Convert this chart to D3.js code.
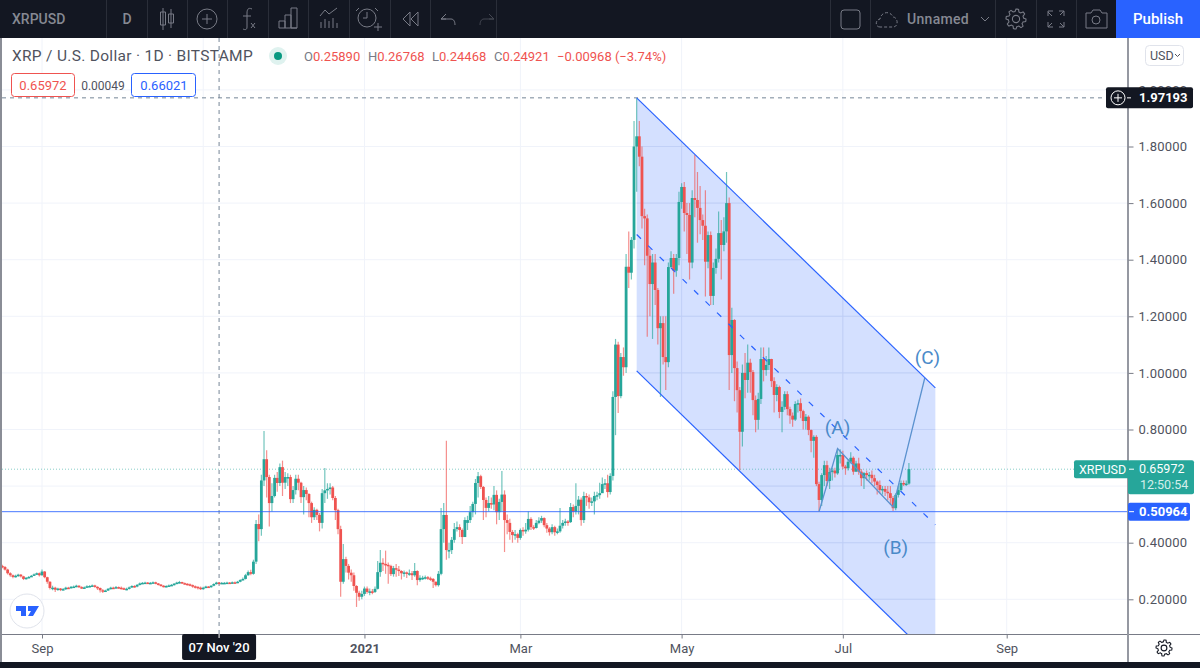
<!DOCTYPE html>
<html>
<head>
<meta charset="utf-8">
<style>
  html, body { margin: 0; padding: 0; background: #fff; overflow: hidden; }
  text { font-family: Roboto, "Open Sans", sans-serif; }
</style>
</head>
<body>
<div class="map"></div>
<script src="https://cdn.jsdelivr.net/npm/d3@7"></script>
<script>
// daily candles from 17 Aug 2020, one line per month
const firstBar = "2020-08-17";

const opens = [
  .318,.314,.305,.292,.285,.279,.283,.287,.281,.272,.276,.279,.283,.288,.292,
  .285,.298,.278,.262,.240,.241,.234,.238,.234,.236,.241,.240,.244,.245,.248,.243,.241,.242,.246,.247,.249,.244,.240,.232,.228,.231,.237,.241,.240,.243,
  .241,.239,.236,.237,.242,.247,.245,.251,.256,.258,.259,.257,.258,.260,.256,.252,.248,.246,.247,.249,.251,.255,.259,.261,.257,.255,.253,.250,.246,.244,.241,
  .240,.241,.245,.243,.248,.254,.259,.257,.258,.258,.259,.258,.260,.259,.262,.268,.272,.285,.296,.290,.333,.466,.448,.620,.695,.632,.540,.565,.629,.611,
  .667,.612,.632,.632,.554,.586,.626,.612,.561,.586,.572,.540,.490,.516,.498,.470,.575,.585,.590,.595,.558,.515,.448,.262,.342,.318,.294,.285,.247,.223,.209,
  .219,.238,.226,.228,.226,.237,.296,.329,.325,.322,.318,.289,.310,.305,.300,.292,.295,.290,.292,.285,.300,.268,.276,.276,.278,.274,.272,.262,.250,.290,.448,
  .498,.374,.374,.410,.448,.455,.445,.420,.470,.480,.508,.537,.611,.635,.597,.551,.523,.540,.535,.569,.508,.544,.570,.480,.470,.438,.427,.430,
  .417,.445,.440,.446,.484,.455,.452,.470,.478,.487,.462,.450,.437,.455,.437,.440,.460,.470,.475,.473,.526,.510,.530,.552,.480,.565,.560,.543,.546,.565,.568,
  .575,.607,.610,.579,.636,.915,1.10,.918,1.056,1.02,1.375,1.354,1.47,1.80,1.836,1.764,1.554,1.546,1.414,1.314,1.39,1.293,1.158,1.176,1.056,1.038,1.374,1.406,1.361,1.406,
  1.604,1.657,1.565,1.558,1.39,1.618,1.611,1.583,1.54,1.52,1.393,1.487,1.272,1.371,1.403,1.494,1.452,1.50,1.60,1.063,1.187,1.017,.939,.792,1.0,.975,1.036,1.003,.904,.834,.908,
  1.049,1.01,1.028,1.049,.971,.922,.95,.862,.88,.925,.872,.849,.835,.89,.893,.865,.83,.845,.798,.76,.774,.607,.551,.639,.674,.618,.65,.655,.645,.71,
  .71,.669,.663,.686,.70,.651,.68,.651,.628,.646,.639,.64,.628,.616,.604,.586,.59,.58,.575,.558,.522,.569,.586,.611,.608,.609
];
const highs = [
  .322,.318,.308,.296,.288,.287,.290,.289,.283,.279,.282,.286,.291,.295,.295,
  .305,.300,.280,.264,.248,.244,.241,.240,.240,.244,.244,.247,.249,.251,.250,.246,.245,.250,.250,.252,.251,.246,.242,.236,.234,.240,.244,.244,.247,.245,
  .245,.242,.241,.245,.250,.250,.254,.259,.261,.262,.261,.261,.263,.262,.258,.254,.250,.250,.252,.254,.258,.262,.265,.262,.259,.257,.256,.252,.249,.246,.245,
  .244,.248,.247,.250,.257,.262,.261,.261,.261,.262,.261,.263,.263,.265,.271,.277,.290,.302,.304,.340,.480,.500,.640,.795,.727,.640,.610,.640,.650,.680,
  .690,.650,.645,.640,.600,.640,.640,.615,.600,.595,.575,.545,.525,.520,.505,.590,.664,.610,.610,.600,.565,.520,.460,.395,.350,.325,.305,.295,.250,.230,.230,
  .245,.245,.238,.236,.245,.335,.374,.345,.372,.330,.322,.318,.325,.318,.303,.302,.298,.305,.300,.328,.303,.285,.283,.284,.282,.280,.275,.263,.300,.523,.540,
  .760,.400,.420,.470,.475,.465,.450,.490,.495,.530,.545,.625,.650,.640,.600,.560,.565,.560,.600,.585,.555,.653,.585,.500,.485,.445,.445,.435,
  .450,.455,.470,.510,.490,.462,.480,.490,.495,.490,.470,.455,.465,.460,.450,.523,.480,.485,.480,.540,.535,.610,.565,.560,.580,.575,.570,.560,.580,.580,.612,
  .630,.625,.640,.645,.935,1.12,1.11,1.07,1.09,1.42,1.50,1.48,1.89,1.97,1.89,1.80,1.58,1.56,1.44,1.42,1.42,1.30,1.20,1.20,1.20,1.39,1.43,1.42,1.42,1.64,
  1.67,1.675,1.60,1.60,1.645,1.77,1.71,1.66,1.56,1.645,1.50,1.50,1.39,1.44,1.57,1.54,1.55,1.71,1.62,1.23,1.19,1.04,.95,1.03,1.07,1.10,1.05,1.01,.92,.93,1.09,
  1.09,1.06,1.09,1.05,.985,.96,.955,.90,.935,.935,.88,.86,.90,.905,.91,.87,.855,.85,.80,.78,.78,.615,.645,.69,.69,.665,.665,.665,.733,.73,
  .725,.675,.695,.72,.705,.69,.70,.66,.65,.655,.65,.655,.64,.62,.62,.60,.60,.60,.60,.565,.575,.60,.62,.62,.62,.682
];
const lows = [
  .310,.302,.288,.280,.274,.277,.280,.277,.268,.270,.274,.279,.282,.286,.281,
  .283,.274,.255,.235,.232,.226,.230,.229,.232,.233,.237,.238,.241,.243,.240,.237,.238,.240,.243,.245,.241,.233,.224,.222,.226,.229,.235,.237,.238,.237,
  .235,.233,.232,.235,.240,.241,.243,.249,.254,.255,.254,.254,.256,.253,.249,.245,.242,.243,.245,.247,.249,.253,.256,.254,.252,.249,.246,.241,.238,.235,.233,
  .234,.239,.240,.241,.246,.252,.254,.254,.254,.255,.254,.255,.255,.257,.260,.266,.270,.283,.285,.287,.325,.405,.425,.600,.560,.457,.510,.560,.580,.600,
  .565,.590,.600,.540,.540,.570,.585,.540,.500,.550,.490,.470,.480,.480,.440,.450,.540,.555,.570,.550,.480,.430,.209,.255,.295,.270,.262,.230,.173,.195,.200,
  .212,.220,.214,.218,.222,.235,.280,.300,.290,.255,.282,.280,.280,.282,.270,.280,.275,.283,.268,.280,.250,.262,.268,.270,.268,.265,.240,.245,.245,.285,.400,
  .340,.345,.360,.400,.440,.420,.395,.420,.445,.470,.490,.500,.560,.590,.480,.490,.510,.520,.515,.465,.480,.510,.367,.430,.410,.400,.410,.400,
  .410,.425,.432,.440,.445,.445,.450,.465,.470,.455,.435,.425,.430,.425,.430,.435,.450,.460,.460,.470,.490,.500,.500,.460,.470,.530,.520,.530,.500,.550,.555,
  .590,.590,.560,.570,.620,.780,.858,.910,.990,1.00,1.30,1.33,1.44,1.64,1.73,1.51,1.38,1.128,1.20,1.12,1.24,1.10,.915,1.03,.94,1.02,1.37,1.28,1.34,1.38,
  1.58,1.50,1.42,1.33,1.37,1.55,1.46,1.49,1.47,1.27,1.37,1.24,1.24,1.35,1.39,1.33,1.43,1.46,.94,1.0,.90,.86,.657,.74,.91,.93,.93,.85,.79,.80,.89,
  .97,.99,1.01,.95,.86,.90,.84,.79,.87,.85,.82,.81,.83,.86,.84,.80,.80,.78,.72,.70,.60,.51,.53,.60,.60,.59,.62,.63,.64,.68,
  .66,.64,.655,.68,.64,.65,.64,.60,.59,.62,.62,.61,.60,.57,.575,.57,.565,.55,.535,.512,.515,.56,.58,.60,.60,.605
];
const closes = [
  .314,.305,.292,.285,.279,.283,.287,.281,.272,.276,.279,.283,.288,.292,.285,
  .298,.278,.262,.240,.241,.234,.238,.234,.236,.241,.240,.244,.245,.248,.243,.241,.242,.246,.247,.249,.244,.240,.232,.228,.231,.237,.241,.240,.243,.241,
  .239,.236,.237,.242,.247,.245,.251,.256,.258,.259,.257,.258,.260,.256,.252,.248,.246,.247,.249,.251,.255,.259,.261,.257,.255,.253,.250,.246,.244,.241,.240,
  .241,.245,.243,.248,.254,.259,.257,.258,.258,.259,.258,.260,.259,.262,.268,.272,.285,.296,.290,.333,.466,.448,.620,.695,.632,.540,.565,.629,.611,.667,
  .612,.632,.632,.554,.586,.626,.612,.561,.586,.572,.540,.490,.516,.498,.470,.575,.585,.590,.595,.558,.515,.448,.262,.342,.318,.294,.285,.247,.223,.209,.219,
  .238,.226,.228,.226,.237,.296,.329,.325,.322,.318,.289,.310,.305,.300,.292,.295,.290,.292,.285,.300,.268,.276,.276,.278,.274,.272,.262,.250,.290,.448,.498,
  .374,.374,.410,.448,.455,.445,.420,.480,.480,.508,.537,.611,.635,.597,.551,.523,.540,.535,.569,.508,.544,.570,.480,.470,.438,.427,.430,.417,
  .445,.440,.446,.484,.455,.452,.470,.478,.487,.462,.450,.437,.455,.437,.440,.460,.470,.475,.473,.526,.510,.530,.552,.480,.565,.560,.543,.546,.565,.568,.575,
  .607,.610,.579,.636,.915,1.10,.918,1.056,1.02,1.375,1.354,1.47,1.80,1.836,1.764,1.554,1.546,1.414,1.314,1.39,1.293,1.158,1.176,1.056,1.038,1.374,1.406,1.361,1.406,1.604,
  1.657,1.565,1.558,1.39,1.618,1.611,1.583,1.54,1.52,1.393,1.487,1.272,1.371,1.403,1.494,1.452,1.50,1.60,1.063,1.187,1.017,.939,.792,1.0,.975,1.036,1.003,.904,.834,.908,1.049,
  1.01,1.028,1.049,.971,.922,.95,.862,.88,.925,.872,.849,.835,.89,.893,.865,.83,.845,.798,.76,.774,.607,.551,.639,.674,.618,.65,.655,.645,.71,.71,
  .669,.663,.686,.70,.651,.68,.651,.628,.646,.639,.64,.628,.616,.604,.586,.59,.58,.575,.558,.522,.569,.586,.611,.608,.609,.660
];

const priceTicks = [0.2, 0.4, 0.6, 0.8, 1.0, 1.2, 1.4, 1.6, 1.8, 2.0];
const timeTicks = ["2020-09-01", "2020-11-01", "2021-01-01", "2021-03-01", "2021-05-01", "2021-07-01", "2021-09-01"];
const timeLabels = ["Sep", "", "2021", "Mar", "May", "Jul", "Sep"];

// parallel channel drawing: anchors at the two ends
const channelDates = ["2021-04-14", "2021-08-05"];
const channelUpper = [1.97193, 0.947];
const channelMiddle = [1.489, 0.463];
const channelLower = [1.007, -0.02];

// wave sketch (A)(B)(C)
const waveDates = ["2021-06-22", "2021-06-29", "2021-07-20", "2021-08-01"];
const wavePrices = [0.51, 0.733, 0.526, 0.982];
const waveLabels = ["(A)", "(B)", "(C)"];
const waveLabelDates = ["2021-06-29", "2021-07-21", "2021-08-02"];
const waveLabelPrices = [0.785, 0.36, 1.03];

const lastPrice = 0.65972;
const linePrice = 0.50964;
const crossPrice = 1.97193;
const crossDate = "2020-11-07";

const width = 1200;
const height = 668;
const plotRight = 1128;
const plotTop = 38;
const plotBottom = 634;

const green = "#26a69a";
const red = "#ef5350";
const blue = "#2962ff";
const dark = "#131722";
const iconCol = "#787b86";

const parseDate = d3.utcParse("%Y-%m-%d");

const x = d3.scaleUtc()
    .domain([parseDate("2020-09-01"), parseDate("2021-09-01")])
    .range([42, 1006.7]);

const y = d3.scaleLinear()
    .domain([0.2, 1.8])
    .range([599.3, 146.5]);

const candles = closes.map(function(c, i) {
  return { date: d3.utcDay.offset(parseDate(firstBar), i), open: opens[i], high: highs[i], low: lows[i], close: c };
});

const svg = d3.select(".map")
    .append("svg")
    .attr("width", width)
    .attr("height", height)
    .style("display", "block");

svg.append("clipPath").attr("id", "plot")
  .append("rect")
    .attr("x", 2).attr("y", plotTop)
    .attr("width", plotRight - 2).attr("height", plotBottom - plotTop);

// grid
const grid = svg.append("g");
grid.selectAll(".gy").data(priceTicks).enter().append("line")
    .attr("x1", 2).attr("x2", plotRight)
    .attr("y1", d => y(d)).attr("y2", d => y(d))
    .attr("stroke", "#f0f3fa");
grid.selectAll(".gx").data(timeTicks).enter().append("line")
    .attr("x1", d => x(parseDate(d))).attr("x2", d => x(parseDate(d)))
    .attr("y1", plotTop).attr("y2", plotBottom)
    .attr("stroke", "#f0f3fa");

// channel fill
const chart = svg.append("g").attr("clip-path", "url(#plot)");
const cx0 = x(parseDate(channelDates[0]));
const cx1 = x(parseDate(channelDates[1]));
const channelPath = "M" + [cx0, y(channelUpper[0])] + "L" + [cx1, y(channelUpper[1])] +
                    "L" + [cx1, y(channelLower[1])] + "L" + [cx0, y(channelLower[0])] + "Z";
chart.append("path")
    .attr("d", channelPath)
    .attr("fill", blue)
    .attr("fill-opacity", 0.2);

// grid stays visible through the fill
svg.append("clipPath").attr("id", "channel").append("path").attr("d", channelPath);
const gridIn = chart.append("g").attr("clip-path", "url(#channel)")
    .attr("stroke", "#bccbf5").attr("stroke-opacity", 0.6);
gridIn.selectAll(".gy2").data(priceTicks).enter().append("line")
    .attr("x1", cx0).attr("x2", cx1)
    .attr("y1", d => y(d)).attr("y2", d => y(d));
gridIn.selectAll(".gx2").data(timeTicks).enter().append("line")
    .attr("x1", d => x(parseDate(d))).attr("x2", d => x(parseDate(d)))
    .attr("y1", plotTop).attr("y2", plotBottom);

// price lines under the candles
chart.append("line")
    .attr("x1", 2).attr("x2", plotRight)
    .attr("y1", y(lastPrice)).attr("y2", y(lastPrice))
    .attr("stroke", green).attr("stroke-opacity", 0.55)
    .attr("stroke-dasharray", "1 2");

// crosshair
const crossX = x(parseDate(crossDate));
chart.append("line")
    .attr("x1", crossX).attr("x2", crossX)
    .attr("y1", plotTop).attr("y2", plotBottom)
    .attr("stroke", "#758696").attr("stroke-dasharray", "4 4");
chart.append("line")
    .attr("x1", 2).attr("x2", plotRight)
    .attr("y1", y(crossPrice)).attr("y2", y(crossPrice))
    .attr("stroke", "#758696").attr("stroke-dasharray", "4 4");

// candles
const bars = chart.append("g").selectAll("g").data(candles).enter().append("g");
bars.append("line")
    .attr("x1", d => x(d.date)).attr("x2", d => x(d.date))
    .attr("y1", d => y(d.high)).attr("y2", d => y(d.low))
    .attr("stroke", d => d.close >= d.open ? green : red)
    .attr("stroke-width", 1.2)
    .attr("stroke-opacity", 0.65);
bars.append("rect")
    .attr("x", d => x(d.date) - 1.4)
    .attr("width", 2.8)
    .attr("y", d => y(Math.max(d.open, d.close)))
    .attr("height", d => Math.max(1.5, Math.abs(y(d.open) - y(d.close))))
    .attr("fill", d => d.close >= d.open ? green : red);

// channel lines on top
[channelUpper, channelLower, channelMiddle].forEach(function(c, i) {
  const ln = chart.append("line")
      .attr("x1", cx0).attr("y1", y(c[0]))
      .attr("x2", cx1).attr("y2", y(c[1]))
      .attr("stroke", blue).attr("stroke-width", 1.2);
  if (i == 2) ln.attr("stroke-dasharray", "6 10");
});

chart.append("line")
    .attr("x1", 2).attr("x2", plotRight)
    .attr("y1", y(linePrice)).attr("y2", y(linePrice))
    .attr("stroke", blue).attr("stroke-opacity", 0.85);

// wave path and its labels
chart.append("path")
    .datum(waveDates.map((d, i) => [x(parseDate(d)), y(wavePrices[i])]))
    .attr("d", d3.line())
    .attr("fill", "none")
    .attr("stroke", "#5b92cf")
    .attr("stroke-width", 1.3);

svg.selectAll(".wave").data(waveLabels).enter().append("text")
    .attr("x", (d, i) => x(parseDate(waveLabelDates[i])))
    .attr("y", (d, i) => y(waveLabelPrices[i]))
    .attr("text-anchor", "middle")
    .attr("font-size", 19)
    .attr("fill", "#4a8ac9")
    .text(d => d);

// frame
svg.append("rect").attr("x", 0).attr("y", plotTop).attr("width", 2).attr("height", height - plotTop).attr("fill", "#8a8d96");
svg.append("line").attr("x1", 2).attr("x2", width).attr("y1", plotBottom + 0.5).attr("y2", plotBottom + 0.5).attr("stroke", "#787b86");
svg.append("rect").attr("x", plotRight - 1).attr("y", plotTop).attr("width", 2).attr("height", height - plotTop).attr("fill", "#9598a1");

// axes
const yAxis = d3.axisRight(y)
    .tickValues(priceTicks)
    .tickSize(5)
    .tickPadding(5)
    .tickFormat(d3.format(".5f"));
const yG = svg.append("g").attr("transform", "translate(" + (plotRight + 0.5) + ",0)").call(yAxis);
yG.select(".domain").remove();
yG.selectAll("line").attr("stroke", "#787b86");
yG.selectAll("text").attr("fill", "#50535e").attr("font-size", 13).style("font-family", "Roboto").attr("letter-spacing", 0.2);

const xAxis = d3.axisBottom(x)
    .tickValues(timeTicks.map(parseDate))
    .tickSize(4)
    .tickPadding(5)
    .tickFormat((d, i) => timeLabels[i]);
const xG = svg.append("g").attr("transform", "translate(0," + (plotBottom + 0.5) + ")").call(xAxis);
xG.select(".domain").remove();
xG.selectAll("line").attr("stroke", "#787b86");
xG.selectAll("text").attr("fill", "#50535e").attr("font-size", 13).style("font-family", "Roboto");
xG.selectAll("text").filter((d, i) => timeLabels[i] == "2021").attr("font-weight", 700);

// crosshair date tag
svg.append("rect").attr("x", crossX - 37).attr("y", plotBottom).attr("width", 74).attr("height", 26).attr("rx", 2).attr("fill", dark);
svg.append("line").attr("x1", crossX).attr("x2", crossX).attr("y1", plotBottom).attr("y2", plotBottom + 4).attr("stroke", "#fff");
svg.append("text").attr("x", crossX).attr("y", plotBottom + 18).attr("text-anchor", "middle")
    .attr("fill", "#fff").attr("font-size", 13).attr("font-weight", 500).text("07 Nov '20");

// right side price tags
function tag(xp, yp, w, h, col) {
  svg.append("rect").attr("x", xp).attr("y", yp).attr("width", w).attr("height", h).attr("rx", 2).attr("fill", col);
}
function label(xp, yp, txt, col, size, weight, anchor) {
  return svg.append("text").attr("x", xp).attr("y", yp).attr("fill", col)
      .attr("font-size", size).attr("font-weight", weight || 400)
      .attr("text-anchor", anchor || "start").text(txt);
}

const crossY = y(crossPrice);
tag(1106, crossY - 10.5, 87, 21, dark);
svg.append("circle").attr("cx", 1118).attr("cy", crossY).attr("r", 7).attr("fill", "none").attr("stroke", "#fff");
svg.append("path").attr("d", "M1114 " + crossY + "h8M1118 " + (crossY - 4) + "v8M1127 " + crossY + "h4").attr("stroke", "#fff");
label(1139, crossY + 4.5, d3.format(".5f")(crossPrice), "#fff", 13, 700);

const lastY = y(lastPrice);
tag(1074, lastY - 9, 56, 18, green);
tag(1128, lastY - 9, 66, 34, green);
label(1079, lastY + 4.5, "XRPUSD", "#fff", 12.5, 400);
svg.append("line").attr("x1", 1129).attr("x2", 1134).attr("y1", lastY).attr("y2", lastY).attr("stroke", "#fff");
label(1139, lastY + 4, d3.format(".5f")(lastPrice), "#fff", 12.5, 400);
label(1140, lastY + 20, "12:50:54", "#d4eeeb", 12.5, 400);

const lineY = y(linePrice);
tag(1128, lineY - 9, 62, 18, blue);
svg.append("line").attr("x1", 1129).attr("x2", 1134).attr("y1", lineY).attr("y2", lineY).attr("stroke", "#fff");
label(1139, lineY + 4.5, d3.format(".5f")(linePrice), "#fff", 13, 700);

// legend line
label(12, 61, "XRP / U.S. Dollar · 1D · BITSTAMP", "#50535e", 15.5).attr("letter-spacing", 0.3);
svg.append("circle").attr("cx", 278).attr("cy", 56).attr("r", 9).attr("fill", "#dff2ef");
svg.append("circle").attr("cx", 278).attr("cy", 56).attr("r", 4).attr("fill", "#089981");

const ohlcKeys = ["O", "H", "L", "C"];
const ohlcVals = ["0.25890", "0.26768", "0.24468", "0.24921"];
const ohlcX = [304, 368, 432, 494];
ohlcKeys.forEach(function(k, i) {
  const t = label(ohlcX[i], 61, k, "#787b86", 13);
  t.append("tspan").attr("fill", red).text(ohlcVals[i]);
});
label(557, 61, "−0.00968 (−3.74%)", red, 13);

// bid / ask boxes
svg.append("rect").attr("x", 11.5).attr("y", 73.5).attr("width", 63).attr("height", 23).attr("rx", 3).attr("fill", "#fff").attr("stroke", red);
label(43, 90, "0.65972", red, 13, 400, "middle");
label(103, 89.5, "0.00049", "#50535e", 12, 400, "middle");
svg.append("rect").attr("x", 131.5).attr("y", 73.5).attr("width", 64).attr("height", 23).attr("rx", 3).attr("fill", "#fff").attr("stroke", blue);
label(164, 90, "0.66021", blue, 13, 400, "middle");

// USD button
svg.append("rect").attr("x", 1145.5).attr("y", 45.5).attr("width", 38).attr("height", 20).attr("rx", 4).attr("fill", "#fff").attr("stroke", "#e0e3eb");
label(1150, 60, "USD", "#50535e", 12.5);
svg.append("path").attr("d", "M1175 54l2.5 2.5l2.5 -2.5").attr("fill", "none").attr("stroke", "#50535e");

// tradingview badge
svg.append("circle").attr("cx", 27).attr("cy", 611).attr("r", 17).attr("fill", "#fff").attr("stroke", "#e0e3eb");
svg.append("path").attr("d", "M16 606h10v10h-5v-5h-5zM28 606h11l-6 10h-5l3 -5h-3z").attr("fill", blue);

// settings gear, bottom right
function gear(cx, cy, r, col) {
  const pts = d3.range(48).map(function(i) {
    const a = i / 48 * 2 * Math.PI;
    const wave = (i % 6) < 3 ? r : r * 0.76;
    return [cx + wave * Math.cos(a), cy + wave * Math.sin(a)];
  });
  svg.append("path").attr("d", d3.line().curve(d3.curveLinearClosed)(pts)).attr("fill", "none").attr("stroke", col).attr("stroke-width", 1.1);
  svg.append("circle").attr("cx", cx).attr("cy", cy).attr("r", r * 0.36).attr("fill", "none").attr("stroke", col).attr("stroke-width", 1.1);
}
gear(1164, 648, 8, "#131722");

// top toolbar
svg.append("rect").attr("width", width).attr("height", plotTop).attr("fill", dark);
svg.append("rect").attr("y", 662).attr("width", width).attr("height", 6).attr("fill", dark);
const separators = [106, 147, 187, 227, 268, 308, 349, 390, 430, 496, 830, 870, 995, 1036, 1076];
svg.selectAll(".sep").data(separators).enter().append("line")
    .attr("x1", d => d + 0.5).attr("x2", d => d + 0.5)
    .attr("y1", 0).attr("y2", plotTop)
    .attr("stroke", "#2a2e39");

label(12, 24, "XRPUSD", "#868993", 14, 500);
label(127, 24, "D", "#868993", 14, 500, "middle");

const icons = svg.append("g").attr("fill", "none").attr("stroke", iconCol).attr("stroke-width", 1);
icons.append("path").attr("d", "M163 8v22M171 9v19M160.5 12h5v13h-5zM168.5 14h5v9h-5z");
icons.append("circle").attr("cx", 207).attr("cy", 19).attr("r", 10);
icons.append("path").attr("d", "M207 14v10M202 19h10");
icons.append("path").attr("d", "M252 9c-4 -2 -5 1 -5 4v14c0 3 -2 3 -4 2M243 16h8M251 23l4 5M255 23l-4 5");
icons.append("path").attr("d", "M279 28v-7h6v7M285 28v-13h6v13M291 28v-20h6v20zM279 28h18");
icons.append("path").attr("d", "M320 16l5 -6l4 4l8 -6M321 28v-6M325 28v-9M329 28v-7M333 28v-10M337 28v-5");
icons.append("circle").attr("cx", 367).attr("cy", 18).attr("r", 9);
icons.append("path").attr("d", "M367 12v6h-4M359 8l-3 3M375 8l3 3M374 27h8M378 23v8");
icons.append("path").attr("d", "M410 12l-7 7l7 7zM418 12l-7 7l7 7z");
icons.append("path").attr("d", "M446 14l-5 5l5 0M441 19h10c3 0 4 3 4 6").attr("stroke-linejoin", "round");
svg.append("path").attr("d", "M489 14l5 5h-5M494 19h-10c-3 0 -4 3 -4 6").attr("fill", "none").attr("stroke", "#434651");

icons.append("rect").attr("x", 841).attr("y", 10).attr("width", 19).attr("height", 19).attr("rx", 3);
icons.append("path").attr("d", "M880 27c-5 0 -5 -7 0 -8c1 -7 10 -9 13 -2c5 0 6 10 0 10z").attr("stroke-dasharray", "3 2");
label(907, 24, "Unnamed", "#868993", 14, 500).attr("letter-spacing", 0.3);
icons.append("path").attr("d", "M981 17l4 4l4 -4");
gear(1016, 19, 10, iconCol);
icons.append("path").attr("d", "M1048 12l4 4M1048 11h5M1048 11v5M1064 11l-4 4M1064 11h-5M1064 11v5M1048 27l4 -4M1048 27h5M1048 27v-5M1064 27l-4 -4M1064 27h-5M1064 27v-5");
icons.append("path").attr("d", "M1086 28v-15h5l2 -3h7l2 3h5v15z");
icons.append("circle").attr("cx", 1096).attr("cy", 20).attr("r", 4);

svg.append("rect").attr("x", 1116).attr("width", 84).attr("height", plotTop).attr("fill", blue);
label(1158, 24, "Publish", "#fff", 15, 500, "middle");
</script>
</body>
</html>
